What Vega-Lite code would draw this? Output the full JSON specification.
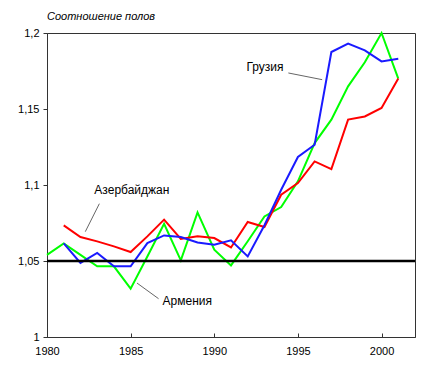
{
  "$schema": "https://vega.github.io/schema/vega-lite/v6.json",
  "width": 368,
  "height": 304,
  "autosize": "none",
  "padding": {"left": 47, "top": 33, "right": 28, "bottom": 42},
  "background": "white",
  "config": {
    "font": "Liberation Sans",
    "view": {"stroke": "#333333", "strokeWidth": 1},
    "axis": {"grid": false, "domainColor": "#333333", "tickColor": "#333333", "labelColor": "#000000", "labelFontSize": 11, "labelFont": "Liberation Sans", "labelFlush": false}
  },
  "title": {"text": "Соотношение полов", "anchor": "start", "frame": "group", "fontStyle": "italic", "fontWeight": "normal", "fontSize": 11, "font": "Liberation Sans", "color": "#000000", "offset": 5},
  "datasets": {
    "series": [
      {"country": "Армения", "year": 1980, "value": 1.054},
      {"country": "Армения", "year": 1981, "value": 1.0616},
      {"country": "Армения", "year": 1982, "value": 1.054},
      {"country": "Армения", "year": 1983, "value": 1.0465},
      {"country": "Армения", "year": 1984, "value": 1.0465},
      {"country": "Армения", "year": 1985, "value": 1.0318},
      {"country": "Армения", "year": 1986, "value": 1.053},
      {"country": "Армения", "year": 1987, "value": 1.0745},
      {"country": "Армения", "year": 1988, "value": 1.0504},
      {"country": "Армения", "year": 1989, "value": 1.082},
      {"country": "Армения", "year": 1990, "value": 1.0574},
      {"country": "Армения", "year": 1991, "value": 1.0471},
      {"country": "Армения", "year": 1992, "value": 1.063},
      {"country": "Армения", "year": 1993, "value": 1.0793},
      {"country": "Армения", "year": 1994, "value": 1.0855},
      {"country": "Армения", "year": 1995, "value": 1.1024},
      {"country": "Армения", "year": 1996, "value": 1.1276},
      {"country": "Армения", "year": 1997, "value": 1.143},
      {"country": "Армения", "year": 1998, "value": 1.1649},
      {"country": "Армения", "year": 1999, "value": 1.1807},
      {"country": "Армения", "year": 2000, "value": 1.2},
      {"country": "Армения", "year": 2001, "value": 1.17},
      {"country": "Азербайджан", "year": 1981, "value": 1.0734},
      {"country": "Азербайджан", "year": 1982, "value": 1.0658},
      {"country": "Азербайджан", "year": 1983, "value": 1.0629},
      {"country": "Азербайджан", "year": 1984, "value": 1.0596},
      {"country": "Азербайджан", "year": 1985, "value": 1.0559},
      {"country": "Азербайджан", "year": 1986, "value": 1.0662},
      {"country": "Азербайджан", "year": 1987, "value": 1.0772},
      {"country": "Азербайджан", "year": 1988, "value": 1.0645},
      {"country": "Азербайджан", "year": 1989, "value": 1.0662},
      {"country": "Азербайджан", "year": 1990, "value": 1.0651},
      {"country": "Азербайджан", "year": 1991, "value": 1.0589},
      {"country": "Азербайджан", "year": 1992, "value": 1.0757},
      {"country": "Азербайджан", "year": 1993, "value": 1.0724},
      {"country": "Азербайджан", "year": 1994, "value": 1.0936},
      {"country": "Азербайджан", "year": 1995, "value": 1.1013},
      {"country": "Азербайджан", "year": 1996, "value": 1.1155},
      {"country": "Азербайджан", "year": 1997, "value": 1.1105},
      {"country": "Азербайджан", "year": 1998, "value": 1.143},
      {"country": "Азербайджан", "year": 1999, "value": 1.1451},
      {"country": "Азербайджан", "year": 2000, "value": 1.1507},
      {"country": "Азербайджан", "year": 2001, "value": 1.17},
      {"country": "Грузия", "year": 1981, "value": 1.0616},
      {"country": "Грузия", "year": 1982, "value": 1.0487},
      {"country": "Грузия", "year": 1983, "value": 1.0553},
      {"country": "Грузия", "year": 1984, "value": 1.0465},
      {"country": "Грузия", "year": 1985, "value": 1.0465},
      {"country": "Грузия", "year": 1986, "value": 1.0618},
      {"country": "Грузия", "year": 1987, "value": 1.0668},
      {"country": "Грузия", "year": 1988, "value": 1.0658},
      {"country": "Грузия", "year": 1989, "value": 1.0622},
      {"country": "Грузия", "year": 1990, "value": 1.0607},
      {"country": "Грузия", "year": 1991, "value": 1.0636},
      {"country": "Грузия", "year": 1992, "value": 1.053},
      {"country": "Грузия", "year": 1993, "value": 1.0735},
      {"country": "Грузия", "year": 1994, "value": 1.0969},
      {"country": "Грузия", "year": 1995, "value": 1.1184},
      {"country": "Грузия", "year": 1996, "value": 1.1265},
      {"country": "Грузия", "year": 1997, "value": 1.1875},
      {"country": "Грузия", "year": 1998, "value": 1.193},
      {"country": "Грузия", "year": 1999, "value": 1.1886},
      {"country": "Грузия", "year": 2000, "value": 1.1813},
      {"country": "Грузия", "year": 2001, "value": 1.1831}
    ],
    "leaders": [
      {"year": 1994.43, "value": 1.1737, "year2": 1996.45, "value2": 1.1693},
      {"year": 1983.13, "value": 1.0877, "year2": 1982.29, "value2": 1.0693},
      {"year": 1985.38, "value": 1.0355, "year2": 1986.67, "value2": 1.0252}
    ],
    "labels": [
      {"year": 1991.92, "value": 1.1778, "label": "Грузия"},
      {"year": 1982.83, "value": 1.0969, "label": "Азербайджан"},
      {"year": 1986.91, "value": 1.0234, "label": "Армения"}
    ],
    "reference": [{"value": 1.05}]
  },
  "layer": [
    {
      "data": {"name": "series"},
      "mark": {"type": "line", "strokeWidth": 2},
      "encoding": {
        "x": {"field": "year", "type": "quantitative", "title": null,
              "scale": {"domain": [1980, 2002], "nice": false, "zero": false},
              "axis": {"values": [1980, 1985, 1990, 1995, 2000], "format": "d", "tickSize": -4, "labelPadding": 12, "domain": true}},
        "y": {"field": "value", "type": "quantitative", "title": null,
              "scale": {"domain": [1, 1.2], "nice": false, "zero": false},
              "axis": {"values": [1, 1.05, 1.1, 1.15, 1.2], "labelExpr": "replace(format(datum.value, '.2~f'), '.', ',')", "tickSize": 4, "labelPadding": 4}},
        "color": {"field": "country", "type": "nominal", "legend": null,
                  "scale": {"domain": ["Армения", "Азербайджан", "Грузия"], "range": ["#00ff00", "#ff0000", "#1a1aff"]}}
      }
    },
    {
      "data": {"name": "reference"},
      "mark": {"type": "rule", "color": "#000000", "strokeWidth": 2.5},
      "encoding": {"y": {"field": "value", "type": "quantitative", "title": null}}
    },
    {
      "data": {"name": "leaders"},
      "mark": {"type": "rule", "color": "#666666", "strokeWidth": 1},
      "encoding": {
        "x": {"field": "year", "type": "quantitative", "title": null},
        "y": {"field": "value", "type": "quantitative", "title": null},
        "x2": {"field": "year2"},
        "y2": {"field": "value2"}
      }
    },
    {
      "data": {"name": "labels"},
      "mark": {"type": "text", "align": "left", "baseline": "middle", "fontSize": 12, "font": "Liberation Sans", "color": "#000000"},
      "encoding": {
        "x": {"field": "year", "type": "quantitative", "title": null},
        "y": {"field": "value", "type": "quantitative", "title": null},
        "text": {"field": "label"}
      }
    }
  ]
}
